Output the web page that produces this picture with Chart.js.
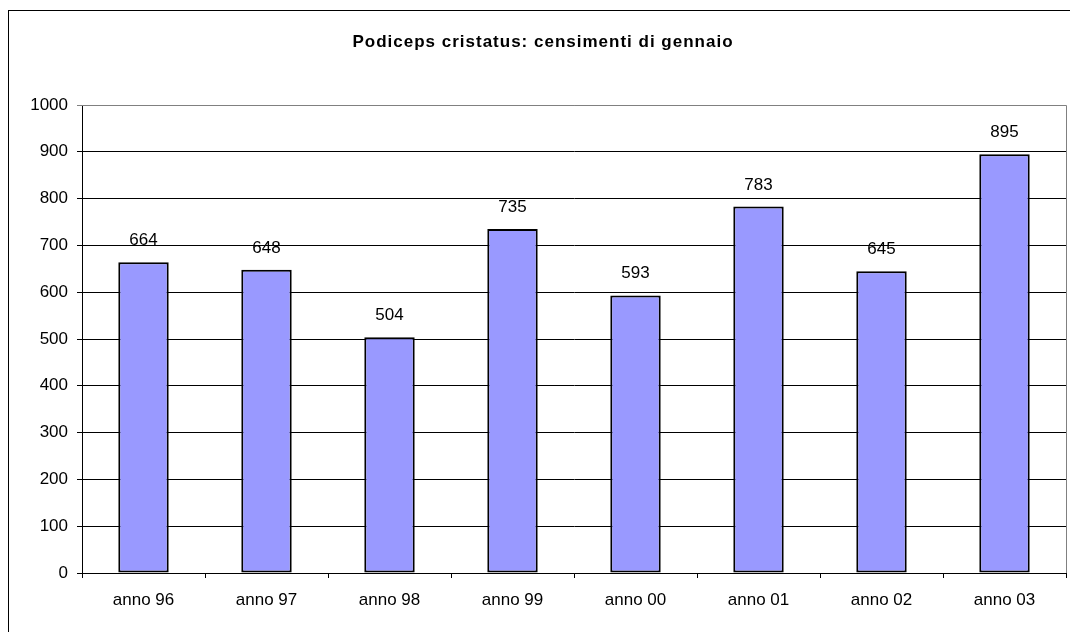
<!DOCTYPE html>
<html><head><meta charset="utf-8">
<script src="https://cdn.jsdelivr.net/npm/chart.js@4.4.0/dist/chart.umd.min.js"></script>
<style>html,body{margin:0;padding:0;background:#fff}#wrap{width:1070px;height:632px;position:relative}</style>
</head><body><div id="wrap"><canvas id="c" width="1070" height="632"></canvas></div>
<script>
const categories = ["anno 96","anno 97","anno 98","anno 99","anno 00","anno 01","anno 02","anno 03"];
const values = [664, 648, 504, 735, 593, 783, 645, 895];
const yTicks = [0,100,200,300,400,500,600,700,800,900,1000];
const titleText = "Podiceps cristatus: censimenti di gennaio";
const FONT = "'Liberation Sans', Arial, sans-serif";

const framePlugin = {
  id: 'frame',
  beforeDraw(chart) {
    const ctx = chart.ctx;
    ctx.save();
    ctx.fillStyle = '#fff';
    ctx.fillRect(0,0,chart.width,chart.height);
    ctx.strokeStyle = '#000';
    ctx.lineWidth = 1;
    ctx.strokeRect(8.5, 10.5, 1200, 800);
    ctx.restore();
  },
  afterDraw(chart) {
    const ctx = chart.ctx;
    const a = chart.chartArea;
    ctx.save();
    ctx.strokeStyle = '#808080';
    ctx.lineWidth = 1;
    ctx.beginPath();
    ctx.moveTo(a.left, Math.round(a.top)+0.5);
    ctx.lineTo(Math.round(a.right)+0.5, Math.round(a.top)+0.5);
    ctx.lineTo(Math.round(a.right)+0.5, a.bottom);
    ctx.stroke();
    ctx.fillStyle = '#000';
    ctx.font = "bold 17px " + FONT;
    try { ctx.letterSpacing = '1px'; } catch (e) {}
    ctx.textAlign = 'center';
    ctx.textBaseline = 'alphabetic';
    ctx.fillText(titleText, 543, 47);
    try { ctx.letterSpacing = '0px'; } catch (e) {}
    ctx.font = "17px " + FONT;
    const meta = chart.getDatasetMeta(0);
    meta.data.forEach((bar, i) => {
      ctx.fillText(String(values[i]), bar.x, bar.y - 17);
    });
    ctx.restore();
  }
};

new Chart(document.getElementById('c'), {
  type: 'bar',
  data: {
    labels: categories,
    datasets: [{
      data: values,
      backgroundColor: '#9999FF',
      borderColor: '#000',
      borderWidth: 2,
      borderSkipped: false,
      categoryPercentage: 1.0,
      barPercentage: 0.41
    }]
  },
  options: {
    responsive: false,
    animation: false,
    devicePixelRatio: 1,
    layout: { padding: { top: 105, right: 4, left: 0, bottom: 0 } },
    plugins: { legend: { display: false }, title: { display: false }, tooltip: { enabled: false } },
    scales: {
      x: {
        grid: { display: true, drawOnChartArea: false, drawTicks: true, tickLength: 5, color: '#000', offset: true },
        border: { color: '#000', width: 1 },
        ticks: { color: '#000', font: { family: FONT, size: 17 }, padding: 12, maxRotation: 0 },
        afterFit(s) { s.height = 59; }
      },
      y: {
        min: 0, max: 1000,
        afterBuildTicks(s) { s.ticks = yTicks.map(v => ({ value: v })); },
        grid: {
          color: (c) => (c.tick && c.tick.value === 1000) ? '#808080' : '#000',
          drawTicks: true, tickLength: 5
        },
        border: { color: '#000', width: 1 },
        ticks: { color: '#000', font: { family: FONT, size: 17 }, padding: 9, callback: (v) => String(v) },
        afterFit(s) { s.width = 82; }
      }
    }
  },
  plugins: [framePlugin]
});
</script>
</body></html>
